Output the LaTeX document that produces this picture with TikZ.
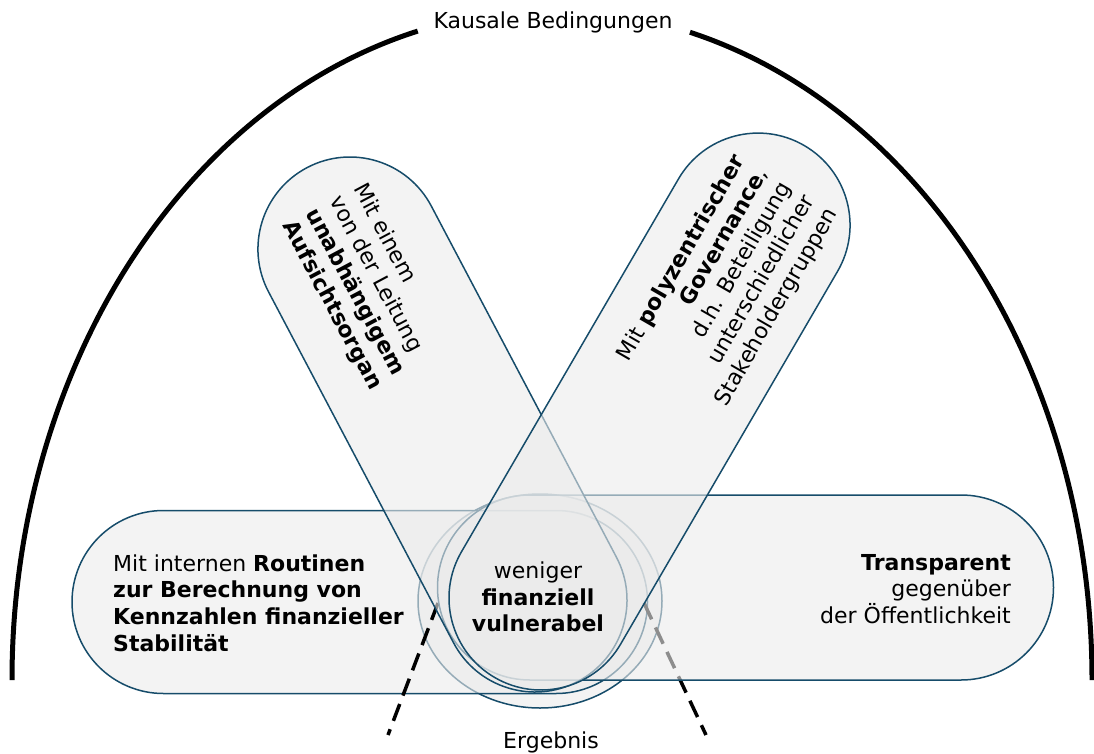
\documentclass[tikz,border=0pt]{standalone}
\usepackage{fontspec}
\setmainfont{DejaVu Sans}
\definecolor{tealline}{RGB}{22,76,106}
\definecolor{capfill}{gray}{0.92}
\newcommand\stadshape[4]{%
  \begin{scope}[shift={#1},rotate=#2]
    \draw[caps] (0,#4) -- (#3,#4) arc[start angle=90,end angle=-90,radius=#4]
      -- (0,-#4) arc[start angle=270,end angle=90,radius=#4] -- cycle;
  \end{scope}}
\begin{document}
\begin{tikzpicture}[x=1pt,y=1pt,
  caps/.style={draw=tealline, line width=1.5pt, fill=capfill, fill opacity=0.6},
  lbl/.style={font=\fontsize{22}{26.7}\selectfont, text=black, inner sep=0pt},
  cone/.style={line width=3.5pt, dash pattern=on 18pt off 9pt},
  bigarc/.style={line width=5pt}]
\useasboundingbox (0,0) rectangle (1094,-754);
% result ellipse (bottom layer)
\draw[caps] (540,-601) ellipse [x radius=122, y radius=107];
% left horizontal capsule
\stadshape{(163.5,-602)}{0}{392.5}{91.5}
% dashed cone lines
\coordinate (dl1) at (438,-603);
\coordinate (dl2) at (388,-735);
\coordinate (dr1) at (644,-603);
\coordinate (dr2) at (706,-735);
\draw[cone] (dl1) -- (dl2);
\draw[cone] (dr1) -- (dr2);
% right horizontal capsule
\stadshape{(530,-587.5)}{0}{431}{92.5}
% tilted capsules
\stadshape{(535,-600)}{117.8}{396.8}{92}
\stadshape{(541,-598)}{59.8}{431.5}{92}
% big arc
\draw[bigarc] (12,-680) arc[start angle=180, end angle=104.4, x radius=540, y radius=670];
\draw[bigarc] (1092,-680) arc[start angle=0, end angle=75.2, x radius=540, y radius=670];
% texts
\node[lbl] (kausal) at (553,-22) {Kausale Bedingungen};
\node[lbl] (ergebnis) at (551,-742) {Ergebnis};
\node[lbl, align=center] (center) at (538,-597) {weniger\\\textbf{finanziell}\\\textbf{vulnerabel}};
\node[lbl, anchor=west, align=left] (routinen) at (113,-603) {Mit internen \textbf{Routinen}\\\textbf{zur Berechnung von}\\\textbf{Kennzahlen finanzieller}\\\textbf{Stabilität}};
\node[lbl, anchor=east, align=right] (transp) at (1011,-589) {\textbf{Transparent}\\gegenüber\\der Öffentlichkeit};
\node[lbl, rotate=-62, align=left] (aufsicht) at (367,-287) {Mit einem\\von der Leitung\\\textbf{unabhängigem}\\\textbf{Aufsichtsorgan}};
\node[lbl, rotate=60, align=right] (gov) at (728,-285) {Mit \textbf{polyzentrischer}\\\textbf{Governance},\\d.h. Beteiligung\\unterschiedlicher\\Stakeholdergruppen};
\end{tikzpicture}
\end{document}
